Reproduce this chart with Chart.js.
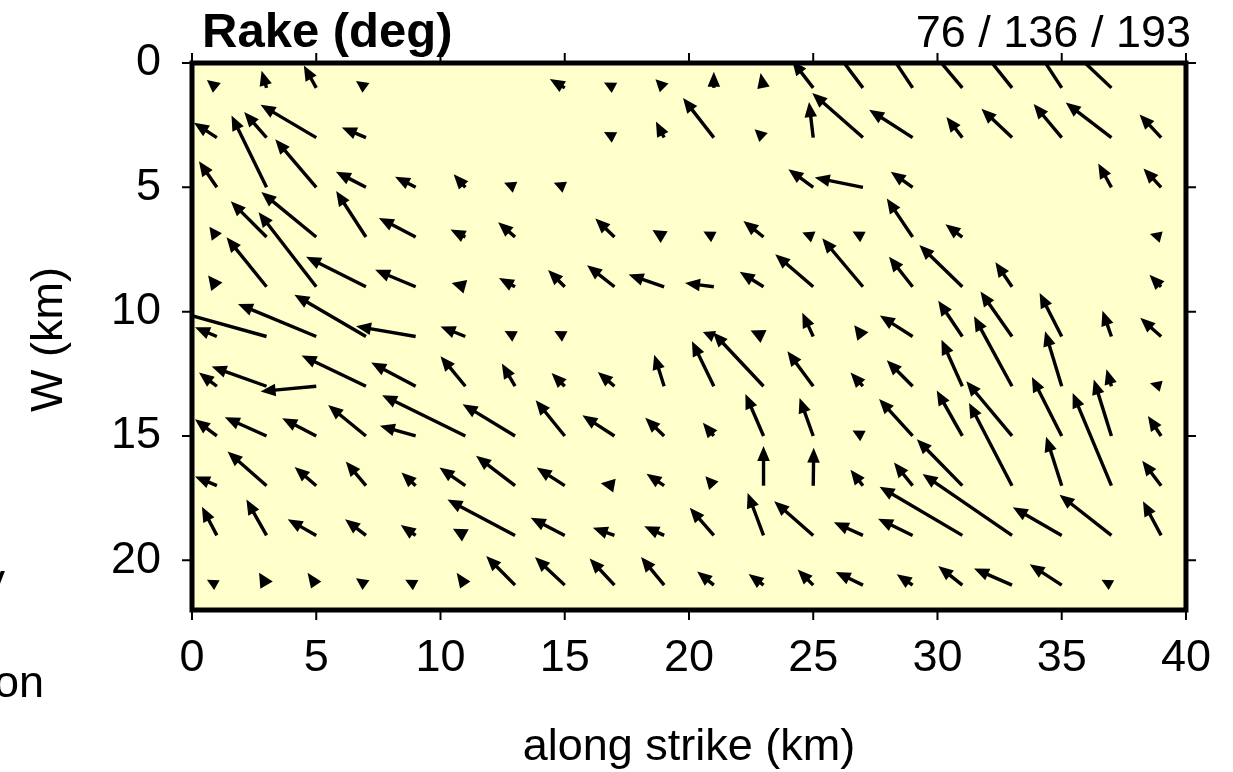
<!DOCTYPE html>
<html>
<head>
<meta charset="utf-8">
<script src="https://cdn.jsdelivr.net/npm/chart.js@4/dist/chart.umd.min.js"></script>
<style>
  html, body { margin: 0; padding: 0; background: #ffffff; }
  #wrap { width: 1233px; height: 772px; position: relative; }
</style>
</head>
<body>
<div id="wrap"><canvas id="c" width="1233" height="772"></canvas></div>
<script>
// ---- data ----
const alongStrike = [1,3,5,7,9,11,13,15,17,19,21,23,25,27,29,31,33,35,37,39];
const downDip = [1,3,5,7,9,11,13,15,17,19,21];
const xTickValues = [0,5,10,15,20,25,30,35,40];
const yTickValues = [0,5,10,15,20];
const titleText = "Rake (deg)";
const rakeStats = "76 / 136 / 193";
const xTitle = "along strike (km)";
const yTitle = "W (km)";

// slip vector components per subfault (km of plot length); null = no slip
// dx: along strike (+ right), dy: down dip (+ deeper, - up dip)
const slipDx = [
  [-0.4,-0.2,-0.5,-0.4,null,null,null,-0.6,-0.42,-0.35,0,-0.12,-0.85,-1.28,-1.13,-1.43,-1.36,-1.11,-1.8,null],
  [-0.92,-0.9,-2.24,-0.97,null,null,null,null,-0.42,-0.33,-1.24,-0.36,-0.17,-2.04,-1.75,-0.64,-1.23,-1.13,-1.84,-0.87],
  [-0.72,-1.41,-1.65,-1.21,-0.83,-0.47,-0.44,-0.44,null,null,null,null,-1.0,-1.94,-0.88,null,null,null,-0.53,-0.71],
  [-0.3,-1.44,-2.21,-1.2,-1.48,-0.6,-0.68,null,-0.77,-0.47,-0.42,-0.81,-0.44,-0.42,-1.04,-0.68,null,null,null,-0.45],
  [-0.35,-1.61,-2.32,-2.41,-1.63,-0.55,-0.65,-0.67,-1.1,-1.43,-1.16,-0.96,-1.53,-1.64,-0.95,-1.73,-0.67,null,null,-0.47],
  [-0.88,-3.9,-3.15,-2.88,-2.4,-1.0,-0.42,-0.42,null,null,-0.44,-0.52,-0.44,-0.35,-1.32,-0.97,-1.27,-0.89,-0.36,-0.84],
  [-0.72,-2.21,-2.24,-2.59,-1.79,-1.0,-0.53,-0.53,-0.67,-0.4,-0.88,-2.04,-1.04,-0.5,-1.04,-0.84,-1.53,-0.67,-0.2,-0.45],
  [-0.88,-1.68,-1.37,-1.52,-1.44,-3.35,-2.11,-1.17,-1.29,-0.76,-0.44,-0.73,-0.55,-0.42,-1.35,-1.03,-1.84,-1.2,-0.71,-0.53],
  [-0.88,-1.57,-0.87,-0.81,-0.57,-1.04,-1.57,-1.13,-0.55,-0.71,-0.34,0,0.02,-0.5,-0.75,-1.83,-1.73,-0.63,-1.56,-0.76],
  [-0.6,-0.81,-1.15,-0.84,-0.6,-0.5,-2.72,-1.37,-0.87,-0.8,-0.97,-0.64,-1.57,-1.17,-1.39,-3.33,-3.6,-1.97,-2.09,-0.73],
  [-0.4,-0.3,-0.35,-0.4,-0.42,-0.35,-1.16,-1.2,-1.0,-0.93,-0.67,-0.6,-0.63,-1.1,-0.64,-0.97,-1.53,-1.29,-0.4,null]
];
const slipDy = [
  [-0.32,-0.69,-0.9,-0.28,null,null,null,-0.36,-0.22,-0.35,-0.65,-0.6,-1.1,-1.7,-1.7,-1.7,-1.7,-1.7,-1.7,null],
  [-0.6,-1.03,-1.32,-0.41,null,null,null,null,-0.22,-0.65,-1.59,-0.34,-1.43,-1.79,-1.12,-0.83,-1.16,-1.35,-1.41,-0.93],
  [-1.05,-2.89,-1.93,-0.63,-0.43,-0.53,-0.18,-0.18,null,null,null,null,-0.73,-0.39,-0.63,null,null,null,-0.96,-0.76],
  [-0.41,-1.44,-1.81,-1.85,-0.77,-0.3,-0.6,null,-0.75,-0.28,-0.22,-0.65,-0.18,-0.22,-1.55,-0.51,null,null,null,-0.12],
  [-0.45,-1.99,-3.0,-1.21,-0.68,-0.15,-0.35,-0.67,-0.87,-0.49,-0.15,-0.6,-1.31,-1.95,-1.21,-1.68,-0.99,null,null,-0.48],
  [-0.37,-1.08,-1.31,-1.68,-0.41,-0.4,-0.22,-0.22,null,null,-0.18,-0.24,-0.96,-0.45,-0.84,-1.44,-1.81,-1.75,-1.04,-0.75],
  [-0.55,-0.79,0.21,-1.24,-0.95,-1.21,-0.91,-0.53,-0.57,-1.27,-1.81,-2.17,-1.41,-0.55,-1.04,-1.87,-2.81,-2.21,-0.68,-0.12],
  [-0.67,-0.75,-0.71,-1.24,-0.41,-1.64,-1.28,-1.44,-0.83,-0.73,-0.53,-1.69,-1.53,-0.22,-1.49,-1.83,-2.2,-2.37,-2.27,-0.8],
  [-0.37,-1.37,-0.75,-0.97,-0.53,-0.73,-1.2,-0.73,-0.1,-0.48,-0.38,-1.6,-1.53,-0.64,-0.93,-1.87,-3.33,-1.97,-3.73,-1.0],
  [-1.15,-1.44,-0.65,-0.65,-0.42,-0.27,-1.44,-0.71,-0.31,-0.37,-1.11,-1.71,-1.37,-0.53,-0.67,-1.96,-2.47,-1.13,-1.64,-1.37],
  [-0.22,-0.5,-0.5,-0.28,-0.22,-0.5,-1.17,-1.13,-1.07,-1.13,-0.55,-0.45,-0.63,-0.53,-0.44,-0.77,-0.67,-0.84,-0.22,null]
];

// ---- build dataset from the arrays ----
const vectors = [];
downDip.forEach((y, r) => {
  alongStrike.forEach((x, c) => {
    const dx = slipDx[r][c], dy = slipDy[r][c];
    if (dx === null || dy === null) return;
    vectors.push({ x: x, y: y, dx: dx, dy: dy });
  });
});

const FONT = "'Liberation Sans', Arial, Helvetica, sans-serif";

const plotBg = {
  id: 'plotBg',
  beforeDatasetsDraw(chart) {
    const { ctx, chartArea: a } = chart;
    ctx.save();
    ctx.fillStyle = '#FFFFCC';
    ctx.fillRect(a.left, a.top, a.right - a.left, a.bottom - a.top);
    ctx.restore();
  }
};

const arrows = {
  id: 'arrows',
  afterDatasetsDraw(chart) {
    const { ctx, chartArea: a } = chart;
    const xs = chart.scales.x, ys = chart.scales.y;
    ctx.save();
    ctx.beginPath();
    ctx.rect(a.left, a.top, a.right - a.left, a.bottom - a.top);
    ctx.clip();
    ctx.strokeStyle = '#000';
    ctx.fillStyle = '#000';
    ctx.lineWidth = 3.4;
    ctx.lineCap = 'butt';
    chart.data.datasets[0].data.forEach(p => {
      const x0 = xs.getPixelForValue(p.x), y0 = ys.getPixelForValue(p.y);
      const x1 = xs.getPixelForValue(p.x + p.dx), y1 = ys.getPixelForValue(p.y + p.dy);
      const L = Math.hypot(x1 - x0, y1 - y0);
      if (L < 0.5) return;
      const ux = (x1 - x0) / L, uy = (y1 - y0) / L;
      const hl = Math.min(15, L);
      const hw = L < 15 ? hl * 0.5 : hl * 0.42;
      const bx = x1 - ux * hl, by = y1 - uy * hl;
      if (L > hl + 0.5) {
        ctx.beginPath();
        ctx.moveTo(x0, y0);
        ctx.lineTo(bx + ux, by + uy);
        ctx.stroke();
      }
      ctx.beginPath();
      ctx.moveTo(x1, y1);
      ctx.lineTo(bx - uy * hw, by + ux * hw);
      ctx.lineTo(bx + uy * hw, by - ux * hw);
      ctx.closePath();
      ctx.fill();
    });
    ctx.restore();
  }
};

const frameAndText = {
  id: 'frameAndText',
  afterDraw(chart) {
    const { ctx, chartArea: a } = chart;
    const xs = chart.scales.x, ys = chart.scales.y;
    ctx.save();
    // ticks on all four sides (outward)
    ctx.strokeStyle = '#000';
    ctx.lineWidth = 2;
    const tl = 10;
    xTickValues.forEach(v => {
      const px = xs.getPixelForValue(v);
      ctx.beginPath();
      ctx.moveTo(px, a.top); ctx.lineTo(px, a.top - tl);
      ctx.moveTo(px, a.bottom); ctx.lineTo(px, a.bottom + tl);
      ctx.stroke();
    });
    yTickValues.forEach(v => {
      const py = ys.getPixelForValue(v);
      ctx.beginPath();
      ctx.moveTo(a.left, py); ctx.lineTo(a.left - tl, py);
      ctx.moveTo(a.right, py); ctx.lineTo(a.right + tl, py);
      ctx.stroke();
    });
    // frame
    ctx.lineWidth = 5;
    ctx.strokeRect(a.left, a.top, a.right - a.left, a.bottom - a.top);

    ctx.fillStyle = '#000';
    // title texts
    ctx.textBaseline = 'alphabetic';
    ctx.font = 'bold 49px ' + FONT;
    ctx.textAlign = 'left';
    ctx.fillText(titleText, a.left + 10, 47);
    ctx.font = '45px ' + FONT;
    ctx.textAlign = 'right';
    ctx.fillText(rakeStats, a.right + 5, 47);
    // x axis title
    ctx.textAlign = 'center';
    ctx.fillText(xTitle, (a.left + a.right) / 2, 760);
    // y axis title
    ctx.save();
    ctx.translate(62, (a.top + a.bottom) / 2 + 3);
    ctx.rotate(-Math.PI / 2);
    ctx.textAlign = 'center';
    ctx.fillText(yTitle, 0, 0);
    ctx.restore();
    // clipped fragments of neighbouring panel text
    ctx.textAlign = 'right';
    ctx.fillText('on', 44, 697);
    ctx.fillText('y', 5, 595);
    ctx.restore();
  }
};

new Chart(document.getElementById('c'), {
  type: 'scatter',
  data: {
    datasets: [{
      label: 'rake',
      data: vectors,
      pointRadius: 0,
      pointHoverRadius: 0,
      showLine: false
    }]
  },
  options: {
    responsive: false,
    animation: false,
    devicePixelRatio: 1,
    events: [],
    layout: { padding: { top: 63, right: 43, left: 0, bottom: 0 } },
    plugins: { legend: { display: false }, tooltip: { enabled: false }, title: { display: false } },
    scales: {
      x: {
        type: 'linear',
        position: 'bottom',
        min: 0, max: 40,
        afterBuildTicks: s => { s.ticks = xTickValues.map(v => ({ value: v })); },
        afterFit: s => { s.height = 162; },
        ticks: {
          font: { family: FONT, size: 45 },
          color: '#000',
          padding: 22,
          maxRotation: 0,
          autoSkip: false,
          callback: v => String(v)
        },
        grid: { display: false, drawTicks: false },
        border: { display: false }
      },
      y: {
        type: 'linear',
        position: 'left',
        reverse: true,
        min: 0, max: 22,
        afterBuildTicks: s => { s.ticks = yTickValues.map(v => ({ value: v })); },
        afterFit: s => { s.width = 192; },
        ticks: {
          font: { family: FONT, size: 45 },
          color: '#000',
          padding: 31,
          autoSkip: false,
          callback: v => String(v)
        },
        grid: { display: false, drawTicks: false },
        border: { display: false }
      }
    }
  },
  plugins: [plotBg, arrows, frameAndText]
});
</script>
</body>
</html>
